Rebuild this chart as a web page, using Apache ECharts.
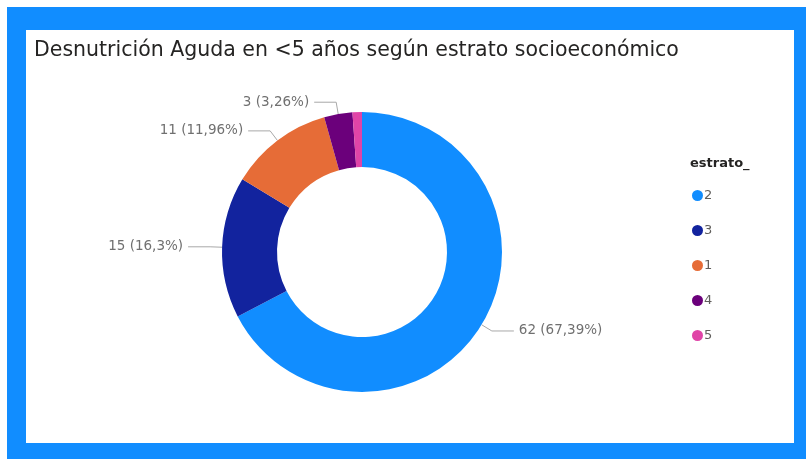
<!DOCTYPE html>
<html>
<head>
<meta charset="utf-8">
<script src="https://cdn.jsdelivr.net/npm/echarts@6/dist/echarts.min.js"></script>
<style>
  html, body { margin: 0; padding: 0; background: #ffffff; }
  #frame { position: absolute; left: 7px; top: 7px; width: 799px; height: 452px; background: #118DFF; }
  #panel { position: absolute; left: 26px; top: 30px; width: 768px; height: 413px; background: #ffffff; }
  #chart { position: absolute; left: 0; top: 0; width: 806px; height: 459px; }
</style>
</head>
<body>
<div id="frame"></div>
<div id="panel"></div>
<div id="chart"></div>
<script>
// Casos de desnutrición aguda en menores de 5 años por estrato
const estratos = ['2', '3', '1', '4', '5'];
const casos = [62, 15, 11, 3, 1];
const colores = ['#118DFF', '#12239E', '#E66C37', '#6B007B', '#E044A7'];
// la etiqueta del estrato 5 no se muestra (porción muy pequeña)
const mostrarEtiqueta = [true, true, true, true, false];

const chart = echarts.init(document.getElementById('chart'), null, { renderer: 'canvas' });

const datos = estratos.map((e, i) => ({
  name: e,
  value: casos[i],
  itemStyle: { color: colores[i] },
  label: { show: mostrarEtiqueta[i] },
  labelLine: { show: mostrarEtiqueta[i] }
}));

chart.setOption({
  backgroundColor: 'transparent',
  animation: false,
  title: [
    {
      text: 'Desnutrición Aguda en <5 años según estrato socioeconómico',
      left: 29, top: 35,
      textStyle: { fontFamily: 'DejaVu Sans', fontSize: 20.5, fontWeight: 'normal', color: '#252423' }
    },
    {
      text: 'estrato_',
      left: 685, top: 152,
      textStyle: { fontFamily: 'DejaVu Sans', fontSize: 13, fontWeight: 'bold', color: '#252423' }
    }
  ],
  legend: {
    orient: 'vertical',
    left: 687, top: 184,
    icon: 'circle',
    itemWidth: 11, itemHeight: 11,
    itemGap: 22,
    data: estratos,
    textStyle: { fontFamily: 'DejaVu Sans', fontSize: 13, color: '#605E5C', padding: [0, 0, 0, -4] }
  },
  series: [{
    type: 'pie',
    center: [362, 252],
    radius: [85, 140],
    startAngle: 90,
    clockwise: true,
    avoidLabelOverlap: true,
    data: datos,
    label: {
      position: 'outside',
      fontFamily: 'DejaVu Sans',
      fontSize: 13.5,
      color: '#707070',
      formatter: p => p.value + ' (' + String(p.percent).replace('.', ',') + '%)'
    },
    labelLine: {
      length: 12,
      length2: 22,
      lineStyle: { color: '#A8A8A8', width: 1 }
    }
  }]
});
</script>
</body>
</html>
